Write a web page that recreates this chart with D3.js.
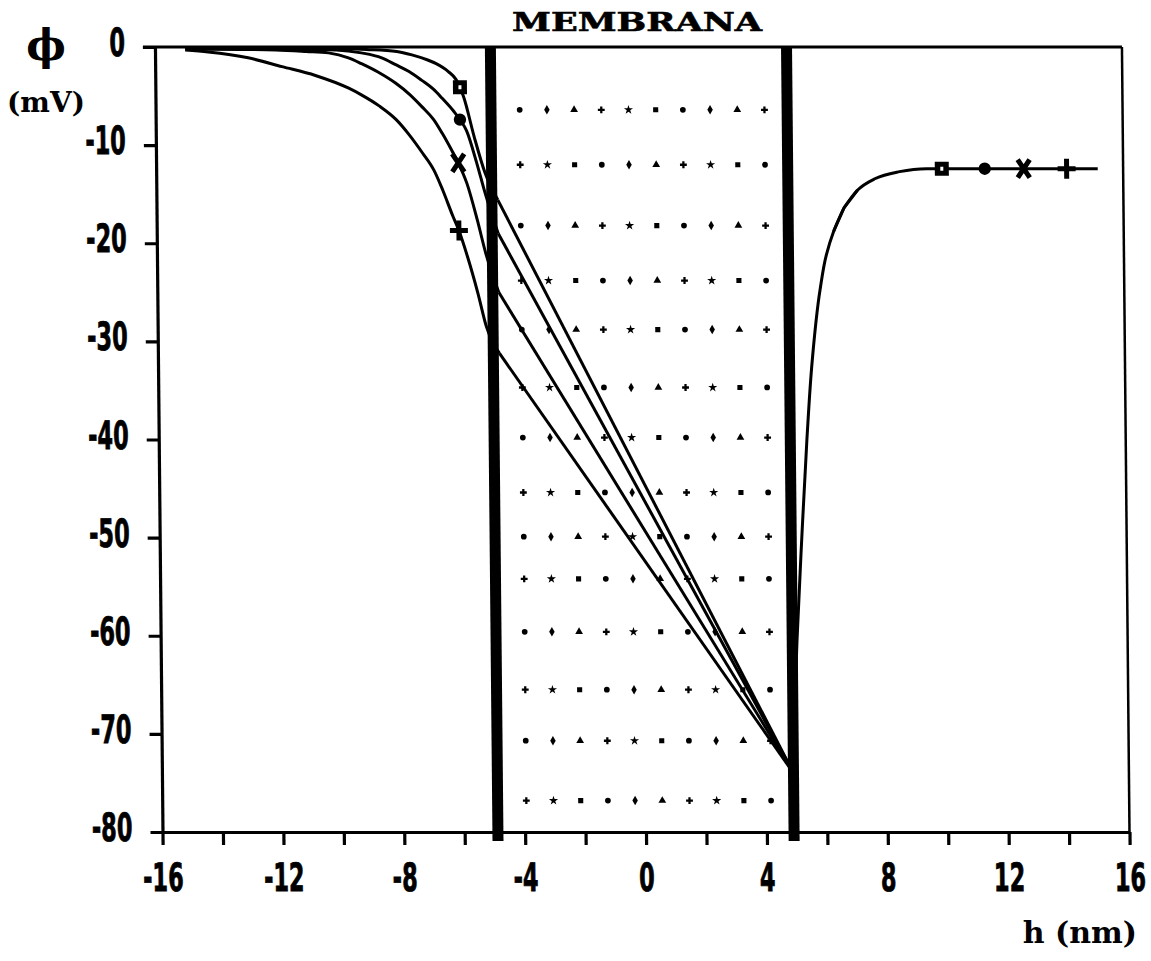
<!DOCTYPE html>
<html>
<head>
<meta charset="utf-8">
<script src="https://cdn.jsdelivr.net/npm/d3@7"></script>
<style>
  body { margin: 0; background: #fff; }
  .tick-label { font-family: "DejaVu Sans Condensed", "DejaVu Sans", sans-serif; font-weight: bold; font-size: 39px; fill: #000; }
</style>
</head>
<body>
<div id="chart"></div>
<script>
// axis ticks
const xTickValues = d3.range(-16, 17, 2);
const yTickValues = d3.range(-80, 1, 10);

// membrane walls (nm) and the common point where all curves meet
const membraneWalls = [-4.9, 4.9];
const membraneEnd = [4.9, -74];

// left-side curves, one per series [h, phi]
const squareLeft = [[-15, -0.1], [-12, -0.1], [-10, -0.15], [-9, -0.25], [-8, -0.45], [-7.5, -0.8], [-7, -1.3], [-6.7, -1.7],
  [-6.3, -2.5], [-6.05, -3.3], [-5.92, -4.1], [-5.8, -5.1], [-5.46, -9.2], [-5.12, -12.8], [-4.7, -15.6]];
const circleLeft = [[-15, -0.1], [-12, -0.2], [-10, -0.3], [-9.17, -0.6], [-8.5, -1.1], [-8.04, -1.8], [-7.6, -2.5], [-7.18, -3.4],
  [-6.8, -4.3], [-6.52, -5.2], [-6.12, -6.6], [-5.93, -7.4], [-5.72, -8.5], [-5.39, -11.8], [-5.12, -14.9], [-4.7, -19.0]];
const crossLeft = [[-15, -0.2], [-12, -0.3], [-11, -0.45], [-10.26, -0.6], [-9.6, -1.1], [-9.17, -1.7], [-8.6, -2.6], [-8.04, -3.7],
  [-7.6, -4.8], [-7.18, -6.1], [-6.8, -7.4], [-6.52, -8.8], [-6.2, -10.6], [-6.0, -11.8], [-5.72, -13.9], [-5.39, -17.6],
  [-5.12, -21.0], [-4.7, -25.0]];
const plusLeft = [[-15, -0.3], [-14.24, -0.5], [-12.92, -1.1], [-11.8, -2.0], [-10.7, -2.9], [-9.6, -4.2], [-9.17, -4.9], [-8.6, -6.0],
  [-8.04, -7.4], [-7.6, -9.0], [-7.18, -10.8], [-6.8, -12.6], [-6.52, -14.6], [-6.2, -17.2], [-6.0, -18.7], [-5.72, -21.4],
  [-5.39, -25.1], [-5.12, -28.5], [-4.7, -31.2]];

const seriesNames = ["square", "circle", "cross", "plus"];
const leftCurves = [squareLeft, circleLeft, crossLeft, plusLeft];
const leftMarkers = [[-5.92, -4.1], [-5.93, -7.4], [-6.0, -11.8], [-6.0, -18.7]];

// right side: one curve shared by all series
const rightCurve = [[4.9, -74], [5.06, -60.4], [5.25, -50], [5.45, -40], [5.65, -32], [5.93, -24.8], [6.15, -21.2],
  [6.4, -18.8], [6.75, -16.4], [7.2, -14.6], [7.8, -13.4], [8.6, -12.7], [9.5, -12.4], [15.16, -12.4]];
const rightMarkerX = [10.0, 11.42, 12.71, 14.13];
const rightLevel = -12.4;

// dotted fill of the membrane
const dotRows = [-6.4, -12.0, -18.2, -23.8, -28.8, -34.7, -39.8, -45.4, -49.9, -54.2, -59.6, -65.5, -70.7, -76.8];
const dotCols = [-3.95, -3.05, -2.15, -1.25, -0.35, 0.55, 1.45, 2.35, 3.25, 4.15];

const width = 1151, height = 961;
const svg = d3.select("#chart").append("svg")
  .attr("width", width)
  .attr("height", height);

const x = d3.scaleLinear().domain([-16, 16]).range([154.5, 1121.5]);
const y = d3.scaleLinear().domain([-80, 0]).range([832, 47]);

// scanned original is slightly skewed
const g = svg.append("g").attr("transform", "skewX(0.55)");

// membrane dots
const dotShapes = [d3.symbolCircle, d3.symbolDiamond, d3.symbolTriangle, d3.symbolCross, d3.symbolStar, d3.symbolSquare];
const dots = [];
dotRows.forEach((r, i) => dotCols.forEach((c, j) => dots.push({ x: c, y: r, k: (i * 3 + j * 7) % dotShapes.length })));
g.append("g").selectAll("path")
  .data(dots)
  .enter().append("path")
  .attr("transform", d => `translate(${x(d.x)},${y(d.y)})`)
  .attr("d", d => d3.symbol().type(dotShapes[d.k]).size(26)())
  .attr("fill", "#000");

// frame
g.append("line")
  .attr("x1", x(-16) - 12).attr("x2", x(16))
  .attr("y1", y(0)).attr("y2", y(0))
  .attr("stroke", "#000").attr("stroke-width", 3);
g.append("line")
  .attr("x1", x(16)).attr("x2", x(16))
  .attr("y1", y(0)).attr("y2", y(-80))
  .attr("stroke", "#000").attr("stroke-width", 2.5);

// axes
const yAxis = g.append("g")
  .attr("transform", `translate(${x(-16)},0)`)
  .call(d3.axisLeft(y).tickValues(yTickValues).tickSize(12).tickSizeOuter(0).tickFormat(d => String(d)));
const xAxis = g.append("g")
  .attr("transform", `translate(0,${y(-80)})`)
  .call(d3.axisBottom(x).tickValues(xTickValues).tickSize(13).tickPadding(18).tickSizeOuter(0)
    .tickFormat(d => d % 4 === 0 ? String(d) : ""));

[yAxis, xAxis].forEach(a => {
  a.select(".domain").attr("stroke-width", 3.2);
  a.selectAll(".tick line").attr("stroke-width", 3.2);
  a.selectAll(".tick text").attr("class", "tick-label").attr("font-family", null).attr("font-size", null)
    .attr("stroke", "#000").attr("stroke-width", 0.8);
});
xAxis.selectAll(".tick text").attr("transform", "scale(0.64,1)").attr("dy", "0.72em");
yAxis.selectAll(".tick text").attr("transform", "scale(0.64,1)").attr("x", -30 / 0.64).attr("dy", "0.22em");

// curves
const smooth = d3.line().x(d => x(d[0])).y(d => y(d[1])).curve(d3.curveMonotoneX);
const straight = d3.line().x(d => x(d[0])).y(d => y(d[1]));
const lw = 3;

leftCurves.forEach((pts, i) => {
  g.append("path").attr("class", "curve " + seriesNames[i])
    .attr("d", smooth(pts))
    .attr("fill", "none").attr("stroke", "#000").attr("stroke-width", lw);
  g.append("path")
    .attr("d", straight([pts[pts.length - 1], membraneEnd]))
    .attr("fill", "none").attr("stroke", "#000").attr("stroke-width", lw);
});

g.append("path")
  .attr("d", d3.line().x(d => x(d[0])).y(d => y(d[1])).curve(d3.curveMonotoneY)(rightCurve.slice(0, 9)))
  .attr("fill", "none").attr("stroke", "#000").attr("stroke-width", lw);
g.append("path")
  .attr("d", smooth(rightCurve.slice(8)))
  .attr("fill", "none").attr("stroke", "#000").attr("stroke-width", lw);
g.append("path")
  .attr("d", straight(rightCurve.slice(7, 10)))
  .attr("fill", "none").attr("stroke", "#000").attr("stroke-width", lw);

// membrane walls
g.selectAll(".wall")
  .data(membraneWalls)
  .enter().append("rect")
  .attr("class", "wall")
  .attr("x", d => x(d) - 5.5)
  .attr("y", y(0))
  .attr("width", 11)
  .attr("height", y(-80) - y(0) + 9)
  .attr("fill", "#000");

// markers
function drawMarker(sel, kind) {
  if (kind === "square") {
    sel.append("rect").attr("x", -7).attr("y", -7).attr("width", 14).attr("height", 14).attr("fill", "#000");
    sel.append("rect").attr("x", -1.5).attr("y", -2).attr("width", 3).attr("height", 4).attr("fill", "#fff");
  } else if (kind === "circle") {
    sel.append("circle").attr("r", 6.2).attr("fill", "#000");
  } else if (kind === "cross") {
    sel.append("path").attr("d", "M-6,-9L6,9M6,-9L-6,9").attr("stroke", "#000").attr("stroke-width", 5);
  } else {
    sel.append("path").attr("d", "M-9,0L9,0M0,-10L0,10").attr("stroke", "#000").attr("stroke-width", 5);
  }
}

seriesNames.forEach((name, i) => {
  const m = leftMarkers[i];
  drawMarker(g.append("g").attr("transform", `translate(${x(m[0])},${y(m[1])})`), name);
  drawMarker(g.append("g").attr("transform", `translate(${x(rightMarkerX[i])},${y(rightLevel)})`), name);
});

// texts
svg.append("text")
  .attr("x", 512).attr("y", 31)
  .attr("textLength", 250).attr("lengthAdjust", "spacingAndGlyphs")
  .style("font-family", "'DejaVu Serif', serif").style("font-weight", "bold").style("font-size", "26px")
  .attr("stroke", "#000").attr("stroke-width", 0.6)
  .text("MEMBRANA");

svg.append("text")
  .attr("x", 46).attr("y", 60)
  .attr("text-anchor", "middle")
  .style("font-family", "'DejaVu Serif', serif").style("font-weight", "bold").style("font-size", "42px")
  .text("ϕ");

svg.append("text")
  .attr("x", 46).attr("y", 112)
  .attr("text-anchor", "middle")
  .style("font-family", "'DejaVu Serif', serif").style("font-weight", "bold").style("font-size", "28px")
  .text("(mV)");

svg.append("text")
  .attr("x", 1137).attr("y", 943)
  .attr("text-anchor", "end")
  .style("font-family", "'DejaVu Serif', serif").style("font-weight", "bold").style("font-size", "30px")
  .text("h (nm)");
</script>
</body>
</html>
